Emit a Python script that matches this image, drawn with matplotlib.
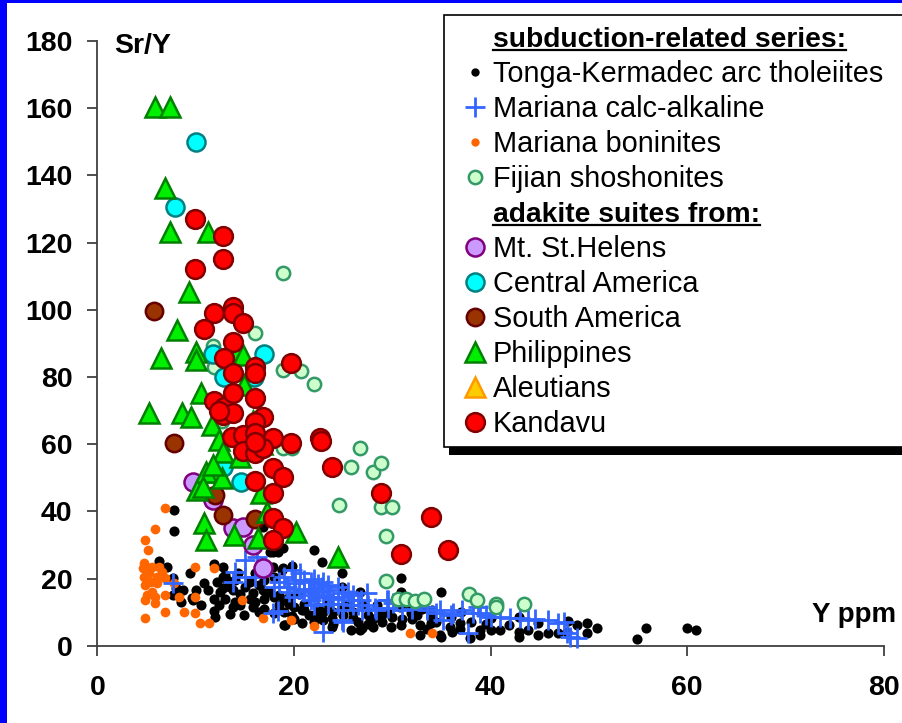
import matplotlib
matplotlib.use("Agg")
import matplotlib.pyplot as plt
from matplotlib.patches import Rectangle
from matplotlib.lines import Line2D

plt.rcParams['font.family'] = ['Liberation Sans', 'DejaVu Sans']

# ---------------- data (Y ppm, Sr/Y) ----------------
tonga_x = [7.8, 7.8, 6.3, 7.1, 7.7, 8.0, 8.7, 7.7, 9.6, 9.4, 10.9, 11.3, 11.9, 11.9, 11.9, 12.8, 12.8, 12.8,
           13.8, 13.8, 14.9, 15.8, 15.8, 16.9, 17.9, 18.9, 19.8, 22.0, 22.9, 24.9, 26.7, 24.9, 17.9, 19.1,
           20.8, 19.8, 23.0, 23.9, 25.8, 26.7, 28.0, 28.9, 29.9, 30.9, 30.9, 30.9, 31.9, 32.8, 32.8, 33.9,
           35.0, 35.0, 35.9, 18.9, 28.8, 30.8, 33.9, 34.9, 36.1, 36.9, 26.9, 22.0, 20.8, 23.9, 26.0, 24.9,
           47.9, 48.8, 49.8, 50.8, 49.8, 47.8, 46.9, 45.8, 44.8, 44.8, 43.8, 42.9, 42.9, 42.9, 41.9, 41.0,
           40.0, 38.9, 38.9, 40.0, 54.9, 55.8, 60.0, 60.9, 37.9, 36.9, 9.7, 16.9, 18.0, 19.0, 18.0, 19.0,
           18.4, 17.6, 18.8, 20.0, 13.0, 14.0, 14.5, 15.0, 16.0, 16.5, 17.0, 17.5, 18.5, 19.5, 20.5, 21.0,
           21.5, 22.5, 23.5, 24.0, 25.5, 26.0, 27.0, 27.5, 28.5, 29.5, 31.5, 32.0, 33.0, 34.0, 36.0, 37.0,
           38.0, 39.5, 13.2, 14.3, 12.4, 13.5,
           12.2, 12.5, 13.0, 13.5, 14.0, 14.5, 15.5, 15.5, 16.0, 16.5, 17.0, 17.0, 18.0, 18.5, 19.0, 19.5,
           20.0, 21.0, 22.0, 22.5, 23.0, 24.0, 25.0, 26.5, 27.5, 28.0, 29.0, 30.0, 31.0, 32.5, 33.5, 34.5,
           12.0, 10.5, 10.0, 8.5]
tonga_y = [40.4, 34.1, 25.2, 23.4, 20.1, 17.1, 16.5, 15.0, 14.2, 21.6, 18.6, 16.5, 13.9, 10.4, 24.3, 23.4, 20.4, 17.1,
           16.5, 11.5, 9.1, 11.5, 15.6, 35.3, 27.9, 29.1, 23.7, 28.5, 24.9, 21.6, 15.9, 17.4, 23.4, 6.2,
           6.8, 8.8, 7.6, 5.6, 4.6, 4.6, 5.6, 8.6, 5.6, 20.1, 15.9, 6.2, 9.7, 6.2, 3.2, 8.6,
           15.9, 2.6, 5.6, 23.1, 9.7, 11.5, 6.8, 3.2, 4.1, 6.8, 5.3, 9.1, 10.6, 8.2, 8.2, 11.5,
           7.3, 6.1, 6.8, 5.3, 3.8, 4.1, 3.8, 3.8, 3.2, 6.8, 4.6, 4.1, 2.6, 8.6, 6.1, 4.6,
           4.6, 4.6, 3.2, 8.2, 2.0, 5.3, 5.3, 4.6, 2.4, 5.0, 13.5, 16.5, 14.5, 13.6, 9.7, 6.2,
           28.0, 27.9, 22.5, 11.5, 14.0, 13.0, 15.5, 17.5, 13.0, 18.0, 11.0, 16.0, 12.0, 14.5, 15.5, 12.5,
           9.0, 11.5, 12.5, 10.0, 12.5, 10.0, 12.5, 9.0, 12.0, 10.0, 12.5, 8.0, 11.0, 10.5, 8.5, 10.0,
           7.0, 6.5, 19.5, 21.5, 12.0, 9.5,
           19.0, 16.0, 21.0, 17.5, 19.5, 12.0, 14.0, 19.0, 21.5, 10.0, 14.0, 19.5, 20.5, 15.0, 10.0, 12.5,
           8.0, 10.5, 7.0, 8.5, 10.0, 6.5, 9.0, 7.0, 6.5, 8.0, 7.0, 8.5, 8.0, 9.0, 5.0, 7.0,
           8.5, 12.0, 16.5, 13.0]

calc_x = [15.0, 16.2, 13.8, 15.0, 7.7, 18.4, 17.9, 23.0, 25.0, 27.4, 28.3, 29.6, 29.6, 34.9, 35.2, 33.5,
          20.6, 20.1, 19.3, 21.7, 22.9, 23.4, 24.5, 24.9, 23.7, 22.3, 21.7, 25.7, 26.8, 25.0, 26.9, 28.4,
          29.5, 30.1, 24.9, 33.5, 34.5, 36.2, 37.1, 37.7, 38.2, 38.9, 40.0, 41.0, 42.0, 43.0, 43.8, 45.9,
          46.9, 47.8, 48.8, 48.1, 38.7, 19.0, 20.0, 19.5, 18.5, 19.8, 21.0, 22.0, 23.0, 24.0, 25.5, 26.0,
          27.5, 20.5, 21.5, 22.5, 18.0, 31.0, 32.0, 36.0, 39.5, 44.5, 47.5, 23.5, 22.0,
          21.0, 22.0, 22.5, 23.0, 23.5, 24.5, 25.0, 26.0, 26.5, 21.5, 20.0, 17.0, 16.0, 14.0]
calc_y = [25.5, 26.4, 18.9, 20.4, 18.6, 10.3, 9.7, 4.1, 7.0, 15.6, 11.2, 13.6, 11.2, 10.6, 7.6, 11.5,
          21.6, 19.5, 17.4, 18.9, 17.4, 16.5, 17.4, 15.6, 14.5, 14.5, 13.6, 13.6, 13.6, 10.6, 10.6, 10.6,
          13.6, 12.7, 7.6, 10.6, 9.7, 9.7, 10.6, 3.8, 9.7, 9.7, 8.6, 8.6, 8.2, 8.2, 7.6, 7.6,
          6.8, 3.8, 2.3, 2.6, 11.5, 20.4, 18.6, 15.9, 19.0, 22.5, 16.0, 20.0, 19.0, 14.0, 16.0, 12.0,
          12.0, 17.0, 15.0, 16.0, 17.5, 10.5, 11.0, 9.0, 9.0, 7.8, 7.0, 12.5, 12.0,
          19.5, 17.0, 18.5, 15.0, 18.0, 12.5, 14.5, 15.0, 12.0, 16.5, 14.5, 21.0, 20.5, 22.0]

bon_x = [6.9, 5.9, 4.9, 5.2, 4.7, 5.0, 5.6, 6.3, 4.6, 4.7, 6.1, 6.9, 4.9, 6.1, 5.6, 5.1, 5.9, 6.9, 4.9,
         5.9, 4.9, 6.9, 8.8, 9.9, 10.4, 11.4, 8.3, 9.9, 9.9, 11.9, 7.8, 14.7, 16.9, 19.7, 22.0, 31.8,
         34.0, 5.3, 5.5, 6.6]
bon_y = [41.0, 34.7, 31.5, 28.5, 24.6, 23.4, 23.4, 23.4, 23.1, 20.4, 20.4, 20.1, 18.0, 18.6, 16.0, 15.0, 14.5, 15.0, 13.6,
         12.7, 8.2, 10.0, 10.0, 9.7, 6.7, 6.7, 14.5, 14.5, 23.4, 23.1, 18.6, 13.6, 8.2, 7.6, 5.9, 3.8,
         3.8, 21.5, 19.0, 22.0]

fiji_x = [18.9, 16.0, 11.8, 18.9, 20.7, 22.0, 26.7, 25.8, 28.0, 28.9, 24.6, 28.9, 30.0, 29.4, 29.4, 30.6,
          31.4, 32.3, 33.2, 18.9, 19.8, 37.8, 38.6, 40.6, 40.6, 43.4, 12.7, 13.3, 16.2, 11.9]
fiji_y = [110.9, 93.2, 89.2, 82.0, 81.8, 77.9, 58.8, 53.1, 51.7, 54.4, 41.9, 41.3, 41.3, 32.7, 19.3, 13.9,
          13.9, 13.3, 13.9, 58.8, 58.8, 15.4, 13.6, 12.4, 11.6, 12.4, 67.0, 72.0, 84.0, 83.0]

msh_x = [9.7, 11.8, 13.8, 14.8, 15.8, 16.9]
msh_y = [48.7, 43.3, 35.0, 35.3, 30.0, 23.1]

cam_x = [10.0, 7.9, 17.0, 11.8, 12.9, 15.9, 12.8, 14.6]
cam_y = [149.9, 130.5, 86.8, 86.8, 80.0, 80.0, 53.2, 48.7]

sam_x = [5.8, 7.8, 12.0, 12.8, 16.0]
sam_y = [99.6, 60.3, 44.8, 38.9, 37.6]

phil_x = [5.3, 8.6, 9.5, 10.6, 11.7, 12.4, 12.8, 12.1, 11.1, 12.7, 10.1, 10.8, 10.9, 11.1, 13.9, 16.3,
          16.7, 17.3, 20.2, 24.5, 14.9, 14.5, 13.9, 10.0, 10.0, 6.5, 8.1, 9.3, 5.9, 7.4, 6.9, 7.4, 11.3,
          11.8, 14.8, 15.8, 16.8]
phil_y = [69.2, 69.2, 68.0, 75.1, 65.7, 61.2, 57.6, 51.7, 51.7, 49.9, 46.3, 47.2, 36.5, 31.5, 32.9, 32.0,
          45.4, 39.8, 33.8, 26.4, 77.6, 56.2, 88.0, 87.4, 85.0, 85.6, 94.0, 105.3, 160.3, 160.3, 136.2, 123.1, 123.1,
          53.8, 86.5, 67.0, 60.0]

aleut_x = []
aleut_y = []

kand_x = [9.9, 12.8, 12.8, 9.9, 13.8, 13.8, 11.9, 14.8, 10.9, 13.8, 12.9, 13.8, 16.0, 16.0, 19.7, 11.9,
          12.9, 13.8, 16.0, 12.8, 13.8, 16.9, 16.0, 13.7, 14.8, 16.0, 17.9, 19.7, 14.8, 16.0, 16.9, 22.7,
          22.8, 23.9, 16.0, 17.9, 18.9, 17.9, 17.9, 18.9, 17.9, 28.9, 33.9, 30.9, 35.7, 12.4, 16.0]
kand_y = [127.0, 121.9, 115.0, 112.1, 100.8, 99.0, 99.0, 96.0, 94.2, 90.4, 85.6, 81.2, 82.9, 81.2, 84.1, 72.8,
          71.0, 75.2, 73.7, 68.7, 69.2, 68.0, 66.5, 62.1, 62.7, 63.3, 61.8, 60.3, 57.9, 57.3, 58.8, 61.8,
          61.0, 53.1, 49.0, 52.9, 50.2, 45.4, 38.0, 35.0, 31.4, 45.4, 38.3, 27.3, 28.5, 70.0, 60.5]

x_ticks = [0, 20, 40, 60, 80]
y_ticks = [0, 20, 40, 60, 80, 100, 120, 140, 160, 180]

legend_entries = [
    ("header", "subduction-related series:"),
    ("tonga", "Tonga-Kermadec arc tholeiites"),
    ("calc", "Mariana calc-alkaline"),
    ("bon", "Mariana boninites"),
    ("fiji", "Fijian shoshonites"),
    ("header", "adakite suites from:"),
    ("msh", "Mt. St.Helens"),
    ("cam", "Central America"),
    ("sam", "South America"),
    ("phil", "Philippines"),
    ("aleut", "Aleutians"),
    ("kand", "Kandavu"),
]

# ---------------- styles ----------------
styles = {
    "tonga": dict(marker='o', ms=7.3, mfc='black', mec='black', mew=0),
    "calc": dict(marker='+', ms=14, mec='#3366FF', mew=2.0),
    "bon": dict(marker='o', ms=7.0, mfc='#FF6600', mec='#FF6600', mew=0),
    "fiji": dict(marker='o', ms=9.6, mfc='#CCFFCC', mec='#339966', mew=1.8),
    "msh": dict(marker='o', ms=13, mfc='#CC99FF', mec='#800080', mew=1.8),
    "cam": dict(marker='o', ms=13, mfc='#00FFFF', mec='#008080', mew=1.8),
    "sam": dict(marker='o', ms=12.5, mfc='#993300', mec='#660000', mew=1.8),
    "phil": dict(marker='^', ms=14, mfc='#00EE00', mec='#008000', mew=1.8),
    "aleut": dict(marker='^', ms=14, mfc='#FFCC00', mec='#FF9900', mew=1.8),
    "kand": dict(marker='o', ms=13.5, mfc='#FF0000', mec='#800000', mew=1.8),
}

W, H = 902, 723
fig = plt.figure(figsize=(W / 100, H / 100), dpi=100)
fig.patch.set_facecolor('#0000FF')
fig.patches.append(Rectangle((7 / W, 0), 1, 1 - 3 / H, transform=fig.transFigure,
                             facecolor='white', edgecolor='none', zorder=-10))

ax = fig.add_axes([97.3 / W, (H - 645.7) / H, (883.7 - 97.3) / W, (645.7 - 41) / H])
ax.set_facecolor('none')
ax.set_xlim(0, 80)
ax.set_ylim(0, 180)
for s in ['top', 'right']:
    ax.spines[s].set_visible(False)
for s in ['left', 'bottom']:
    ax.spines[s].set_color('#404040')
    ax.spines[s].set_linewidth(1.3)
ax.set_xticks(x_ticks)
ax.set_yticks(y_ticks)
ax.tick_params(axis='both', direction='out', length=7, width=1.3, color='#404040',
               labelsize=20.5)
ax.tick_params(axis='y', pad=11)
ax.tick_params(axis='x', pad=14)
for lab in ax.get_xticklabels() + ax.get_yticklabels():
    lab.set_fontweight('bold')

series = [
    ("tonga", tonga_x, tonga_y, 2),
    ("bon", bon_x, bon_y, 3),
    ("calc", calc_x, calc_y, 4),
    ("fiji", fiji_x, fiji_y, 5),
    ("msh", msh_x, msh_y, 6),
    ("cam", cam_x, cam_y, 7),
    ("sam", sam_x, sam_y, 8),
    ("aleut", aleut_x, aleut_y, 9),
    ("phil", phil_x, phil_y, 10),
    ("kand", kand_x, kand_y, 11),
]
for key, xs, ys, z in series:
    ax.plot(xs, ys, linestyle='none', zorder=z, clip_on=False, **styles[key])

# axis titles
fig.text(114 / W, (H - 53) / H, "Sr/Y", fontsize=20.5, fontweight='bold', ha='left', va='baseline')
fig.text(896 / W, (H - 622) / H, "Y ppm", fontsize=20, fontweight='bold', ha='right', va='baseline')

# ---------------- legend (overlay in pixel coordinates) ----------------
ov = fig.add_axes([0, 0, 1, 1], zorder=20)
ov.set_xlim(0, W)
ov.set_ylim(H, 0)
ov.axis('off')
ov.set_facecolor('none')

ov.add_patch(Rectangle((449, 20), 470, 435, facecolor='black', edgecolor='none', zorder=1))
ov.add_patch(Rectangle((444, 15), 470, 432, facecolor='white', edgecolor='black', linewidth=1.2, zorder=2))

base0, step = 46.7, 35.05
text_x, mark_x = 492.7, 474.5
fig.canvas.draw()
renderer = fig.canvas.get_renderer()
for i, (key, label) in enumerate(legend_entries):
    yb = base0 + step * i
    if key == "header":
        t = ov.text(text_x, yb, label, fontsize=20.3, fontweight='bold', ha='left', va='baseline', zorder=5)
        bb = t.get_window_extent(renderer=renderer)
        ov.add_line(Line2D([bb.x0, bb.x1], [yb + 3, yb + 3], color='black', lw=1.6, zorder=5))
    else:
        ov.text(text_x, yb, label, fontsize=20.8, ha='left', va='baseline', zorder=5)
        st = dict(styles[key])
        if key in ("tonga", "bon"):
            st['ms'] = 6
        ov.plot([mark_x], [yb - 10], linestyle='none', zorder=5, **st)

fig.savefig("out.png", dpi=100)
